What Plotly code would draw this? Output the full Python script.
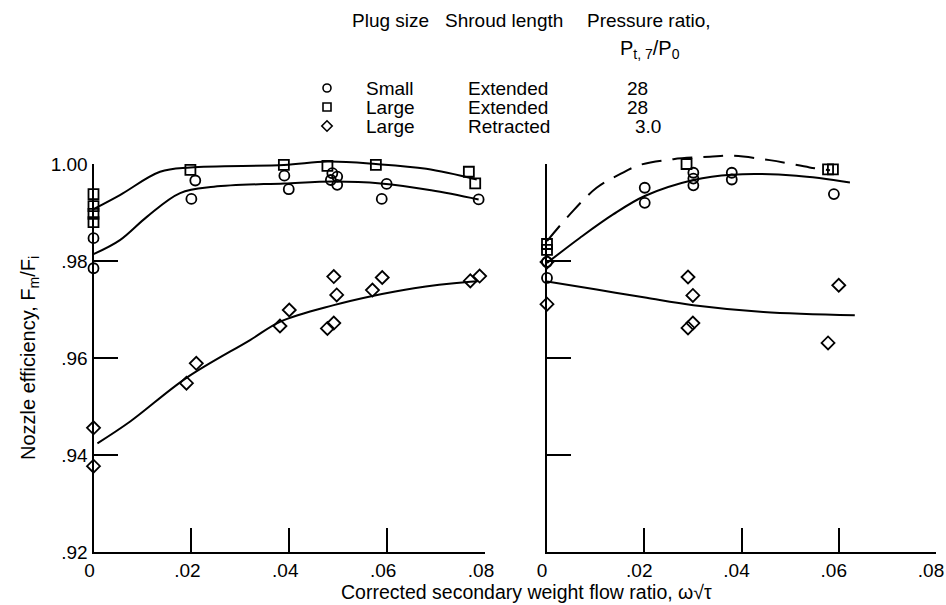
import plotly.graph_objects as go

# ---------------- data ----------------
# Left panel
small_L_x = [0, 0, 0.0208, 0.0200, 0.0390, 0.0399, 0.0488, 0.0498, 0.0485, 0.0498, 0.0599, 0.0589, 0.0787]
small_L_y = [0.9847, 0.9785, 0.9966, 0.9928, 0.9976, 0.9948, 0.9981, 0.9974, 0.9967, 0.9957, 0.9959, 0.9928, 0.9927]
large_ext_L_x = [0, 0, 0, 0, 0.0198, 0.0198, 0.0389, 0.0474, 0.0478, 0.0577, 0.0767, 0.0780]
large_ext_L_y = [0.9938, 0.9913, 0.9897, 0.9880, 1.0001, 0.9988, 0.9998, 1.0008, 0.9996, 0.9998, 0.9984, 0.9960]
large_ret_L_x = [0.0491, 0.0497, 0.0590, 0.0570, 0.0770, 0.0789, 0.0400, 0.0381, 0.0478, 0.0491, 0.0210, 0.0190, 0, 0]
large_ret_L_y = [0.9768, 0.9730, 0.9766, 0.9740, 0.9759, 0.9769, 0.9699, 0.9666, 0.9661, 0.9672, 0.9589, 0.9548, 0.9456, 0.9377]

# Left panel faired curves
curve_small_L_x = [0, 0.0054, 0.0109, 0.0177, 0.0246, 0.0390, 0.0491, 0.0587, 0.0690, 0.0787]
curve_small_L_y = [0.9814, 0.9843, 0.9891, 0.9940, 0.9953, 0.9960, 0.9964, 0.9960, 0.9946, 0.9927]
curve_ext_L_x = [0, 0.0054, 0.0136, 0.0198, 0.0389, 0.0478, 0.0577, 0.0680, 0.0783]
curve_ext_L_y = [0.9907, 0.9936, 0.9984, 0.9993, 0.9998, 1.0005, 1.0000, 0.9990, 0.9968]
curve_ret_L_x = [0.0008, 0.0075, 0.0190, 0.0320, 0.0382, 0.0491, 0.0570, 0.0655, 0.0770, 0.0785]
curve_ret_L_y = [0.9424, 0.9469, 0.9559, 0.9637, 0.9675, 0.9709, 0.9728, 0.9744, 0.9757, 0.9758]

# Right panel
small_R_x = [0, 0, 0.0201, 0.0201, 0.0301, 0.0301, 0.0301, 0.0380, 0.0380, 0.0590]
small_R_y = [0.9798, 0.9765, 0.9951, 0.9920, 0.9982, 0.9970, 0.9956, 0.9982, 0.9968, 0.9938]
large_ext_R_x = [0, 0, 0.0191, 0.0287, 0.0287, 0.0380, 0.0578, 0.0588]
large_ext_R_y = [0.9835, 0.9823, 1.0001, 1.0013, 1.0000, 1.0022, 0.9989, 0.9989]
large_ret_R_x = [0, 0, 0.0290, 0.0300, 0.0290, 0.0300, 0.0600, 0.0578]
large_ret_R_y = [0.9798, 0.9711, 0.9767, 0.9729, 0.9662, 0.9672, 0.9750, 0.9631]

curve_ext_R_x = [0, 0.0047, 0.0102, 0.0150, 0.0191, 0.0260, 0.0335, 0.0380, 0.0458, 0.0540, 0.0582]
curve_ext_R_y = [0.9841, 0.9896, 0.9951, 0.9979, 0.9998, 1.0010, 1.0015, 1.0017, 1.0008, 0.9993, 0.9987]
curve_small_R_x = [0, 0.0068, 0.0136, 0.0201, 0.0301, 0.0380, 0.0513, 0.0623]
curve_small_R_y = [0.9796, 0.9848, 0.9896, 0.9934, 0.9967, 0.9978, 0.9976, 0.9962]
curve_ret_R_x = [0, 0.0102, 0.0205, 0.0301, 0.0445, 0.0633]
curve_ret_R_y = [0.9758, 0.9741, 0.9724, 0.9709, 0.9695, 0.9688]

x_tickvals = [0, 0.02, 0.04, 0.06, 0.08]
x_ticktext = ["0", ".02", ".04", ".06", ".08"]
y_tickvals = [0.92, 0.94, 0.96, 0.98, 1.00]
y_ticktext = [".92", ".94", ".96", ".98", "1.00"]

legend_symbols = ["circle-open", "square-open", "diamond-open"]
legend_plug = ["Small", "Large", "Large"]
legend_shroud = ["Extended", "Extended", "Retracted"]
legend_ratio = ["28", "28", "3.0"]

# ---------------- layout geometry ----------------
W, H = 946, 605
FONT = "Liberation Sans"
FS = 19
FS_TITLE = 19.5

def px(xp):
    return xp / W

def py(yp):
    return 1 - yp / H

y_dom = [py(552), py(164)]
y_dom_ext = [y_dom[0], y_dom[0] + (y_dom[1] - y_dom[0]) * 9 / 8]
xL_dom = [px(93.5), px(485)]
xR_dom = [px(547), px(936)]

fig = go.Figure()

MK = dict(size=10, color="black", line=dict(width=1.8))

def markers(x, y, sym, xa, ya):
    fig.add_trace(go.Scatter(x=x, y=y, mode="markers", xaxis=xa, yaxis=ya,
                             marker=dict(symbol=sym, **MK), cliponaxis=False,
                             showlegend=False, hoverinfo="skip"))

def curve(x, y, xa, ya, dash="solid"):
    fig.add_trace(go.Scatter(x=x, y=y, mode="lines", xaxis=xa, yaxis=ya,
                             line=dict(color="black", width=2, shape="spline",
                                       smoothing=1.0, dash=dash),
                             showlegend=False, hoverinfo="skip"))

# left panel: lines on extended axis y3, markers on visible axis y
curve(curve_small_L_x, curve_small_L_y, "x", "y3")
curve(curve_ext_L_x, curve_ext_L_y, "x", "y3")
curve(curve_ret_L_x, curve_ret_L_y, "x", "y3")
markers(small_L_x, small_L_y, "circle-open", "x", "y")
markers(large_ext_L_x, large_ext_L_y, "square-open", "x", "y")
markers(large_ret_L_x, large_ret_L_y, "diamond-open", "x", "y")

# right panel
curve(curve_ext_R_x, curve_ext_R_y, "x2", "y4", dash="20px,11px")
curve(curve_small_R_x, curve_small_R_y, "x2", "y4")
curve(curve_ret_R_x, curve_ret_R_y, "x2", "y4")
markers(small_R_x, small_R_y, "circle-open", "x2", "y2")
markers(large_ext_R_x, large_ext_R_y, "square-open", "x2", "y2")
markers(large_ret_R_x, large_ret_R_y, "diamond-open", "x2", "y2")

# legend symbols on a pixel-coordinate overlay axis
leg_rows_y = [88, 107, 126]
fig.add_trace(go.Scatter(x=[327] * 3, y=leg_rows_y, mode="markers", xaxis="x5", yaxis="y5",
                         marker=dict(symbol=legend_symbols, size=8, color="black", line=dict(width=1.6)),
                         showlegend=False, hoverinfo="skip", cliponaxis=False))

ax_common = dict(showline=True, linewidth=2, linecolor="black", ticks="inside",
                 ticklen=24, tickwidth=2, tickcolor="black", showgrid=False,
                 zeroline=False, automargin=False, ticklabeloverflow="allow",
                 tickfont=dict(family=FONT, size=FS, color="black"))

fig.update_layout(
    width=W, height=H,
    margin=dict(l=0, r=0, t=0, b=0, pad=0, autoexpand=False),
    paper_bgcolor="white", plot_bgcolor="rgba(0,0,0,0)",
    font=dict(family=FONT, size=FS, color="black"),
    xaxis=dict(domain=xL_dom, range=[0, 0.08], anchor="y", tickmode="array",
               tickvals=x_tickvals, ticktext=x_ticktext, ticklabelshift=-4, **ax_common),
    yaxis=dict(domain=y_dom, range=[0.92, 1.00], anchor="x", tickmode="array",
               tickvals=y_tickvals, ticktext=y_ticktext, **ax_common),
    xaxis2=dict(domain=xR_dom, range=[0, 0.08], anchor="y2", tickmode="array",
                tickvals=x_tickvals, ticktext=x_ticktext, ticklabelshift=-5, **ax_common),
    yaxis2=dict(domain=y_dom, range=[0.92, 1.00], anchor="x2", tickmode="array",
                tickvals=y_tickvals, showticklabels=False, **ax_common),
    yaxis3=dict(domain=y_dom_ext, range=[0.92, 1.01], anchor="x", visible=False, automargin=False),
    yaxis4=dict(domain=y_dom_ext, range=[0.92, 1.01], anchor="x2", visible=False, automargin=False),
    xaxis5=dict(domain=[0, 1], range=[0, W], anchor="y5", visible=False, automargin=False),
    yaxis5=dict(domain=[0, 1], range=[H, 0], anchor="x5", visible=False, automargin=False),
)

ann = []

def text(t, xp, yp, xanchor="left", size=FS, **kw):
    ann.append(dict(text=t, x=px(xp), y=py(yp), xref="paper", yref="paper",
                    xanchor=xanchor, yanchor="middle", showarrow=False,
                    font=dict(family=FONT, size=size, color="black"), **kw))

text("Plug size", 350, 20)
text("Shroud length", 443, 20)
text("Pressure ratio,", 585, 20)
text("P<sub>t, 7</sub>/P<sub>0</sub>", 650, 50, xanchor="center", size=20)
for i in range(3):
    text(legend_plug[i], 364, leg_rows_y[i])
    text(legend_shroud[i], 466, leg_rows_y[i])
    text(legend_ratio[i], 625 if i < 2 else 633, leg_rows_y[i])

text("Corrected secondary weight flow ratio, ω√τ", 526, 592, xanchor="center", size=FS_TITLE)
ann.append(dict(text="Nozzle efficiency, F<sub>m</sub>/F<sub>i</sub>", x=px(29), y=py(358),
                xref="paper", yref="paper", xanchor="center", yanchor="middle",
                showarrow=False, textangle=-90,
                font=dict(family=FONT, size=20, color="black")))
fig.update_layout(annotations=ann)

fig.write_html("out.html")
